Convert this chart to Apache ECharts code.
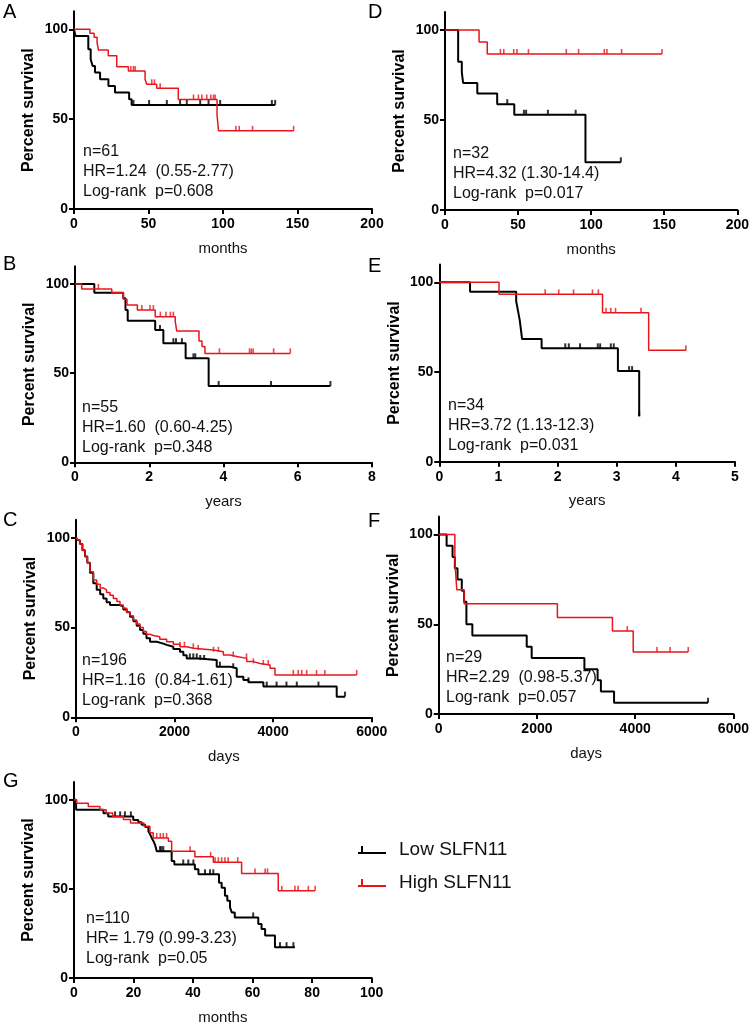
<!DOCTYPE html>
<html><head><meta charset="utf-8">
<script src="https://cdn.jsdelivr.net/npm/echarts@6/dist/echarts.min.js"></script>
<style>html,body{margin:0;padding:0;background:#fff}#c{width:752px;height:1026px}</style>
</head><body><div id="c"></div>
<script>
// ---------- DATA ----------
const seriesNames = ['Low SLFN11', 'High SLFN11'];

// Panel A (months)
const aLowT  = [0,1,9.6,11.2,12.5,14.1,17.5,23.1,27.5,37,38.7,135];
const aLowS  = [100,96.3,88.9,83.3,79.6,75.9,72.2,68.5,64.8,61.1,57.9,57.9];
const aLowC  = [39.9,50.4,62.3,71.2,75.7,84.7,90.3,98.1,132.8,135];
const aHighT = [0,10.7,13.5,15.5,16.4,23,28.7,36.5,47.7,48.8,55.5,70,96,97,147.4];
const aHighS = [100,97.8,95.5,92.6,88.4,85.2,79.2,76.8,72,69.4,67.2,60.9,52.3,43.5,43.5];
const aHighC = [38.1,39.9,41,52.2,54,57.8,80.2,83.5,85.8,89.1,91.8,93.6,94.7,108.6,110.9,119.8,147.4];
const aNotes = ['n=61', 'HR=1.24  (0.55-2.77)', 'Log-rank  p=0.608'];

// Panel D (months)
const dLowT  = [0,9,11.5,12.4,22.1,35.7,47.4,96.1,120.3];
const dLowS  = [100,82.4,76.5,70.6,64.7,58.8,52.9,26.5,26.5];
const dLowC  = [42.6,54,55.5,70.4,89.4,120.3];
const dHighT = [0,23.3,28.9,148.5];
const dHighS = [100,93.3,86.7,86.7];
const dHighC = [37.9,40.2,47,49.2,57.1,83,91.4,109,110.8,120.8,148.5];
const dNotes = ['n=32', 'HR=4.32 (1.30-14.4)', 'Log-rank  p=0.017'];

// Panel B (years)
const bLowT  = [0,0.52,1.3,1.36,1.42,2.16,2.38,2.98,3.6,6.88];
const bLowS  = [100,95.1,92,85.4,79.4,74.2,66.8,58.3,42.8,42.8];
const bLowC  = [2.29,2.65,2.72,2.88,3.19,3.24,3.87,5.28,6.88];
const bHighT = [0,0.18,0.99,1.3,1.4,1.68,2.16,2.7,2.74,3.34,3.42,3.5,5.8];
const bHighS = [100,97.2,95.1,91.4,88.2,85.4,81.7,79,73.6,68,65,61.1,61.1];
const bHighC = [0.63,1.8,2.02,2.11,2.3,2.45,2.57,2.65,3.89,4.7,4.75,4.8,5.35,5.8];
const bNotes = ['n=55', 'HR=1.60  (0.60-4.25)', 'Log-rank  p=0.348'];

// Panel E (years)
const eLowT  = [0,0.52,1.3,1.33,1.36,1.38,1.4,1.73,3.02,3.38];
const eLowS  = [100,94.7,89.5,84.2,78.9,73.7,68.4,63.2,50.5,25.3];
const eLowC  = [2.13,2.19,2.38,2.68,2.72,2.9,2.95,3.21,3.26,3.38];
const eHighT = [0,1.01,2.76,3.54,4.17];
const eHighS = [100,93.3,83,62.2,62.2];
const eHighC = [1.79,2.02,2.27,2.59,2.69,2.82,2.9,2.98,3.41,4.17];
const eNotes = ['n=34', 'HR=3.72 (1.13-12.3)', 'Log-rank  p=0.031'];

// Panel C (days)
const cLowT  = [0,40,81,130,183,230,284,351,420,490,554,620,690,893,960,1030,1096,1163,1231,1299,1366,1430,1502,1637,1772,1840,1975,2110,2178,2246,2500,2855,3125,3261,3396,3500,3802,5290,5459];
const cLowS  = [100,98.5,96.5,93,89.5,86,80.5,74.6,71,68.5,66.2,64,62.5,61.6,60,58.5,56,53.5,51,48.6,46.5,44,42.1,41,40.3,39.3,38,36.5,34.5,32.8,31.9,28.2,27.3,22.6,20.8,19.5,17.1,11.5,11.5];
const cLowC  = [2310,2380,2450,2520,2600,2920,3190,3500,3870,4070,4270,4480,4920,5459];
const cHighT = [0,40,81,130,183,230,284,351,420,490,554,620,690,757,830,893,960,1030,1096,1163,1230,1299,1366,1430,1500,1569,1700,1840,1975,2110,2246,2381,2787,2990,3125,3261,3464,3600,3734,3937,4038,5696];
const cHighS = [100,98.5,96.5,93,89.5,86,81,76.4,74,72,70.9,69.5,68,66.2,64.5,62.5,60.7,58.5,56.5,54.2,52,50,47.7,46.3,45.5,44.9,43.5,42.1,40.7,39.3,38.4,37.5,36.5,34.7,33.8,32.8,31,30,29.1,27.3,23.6,23.6];
const cHighC = [2110,2200,2380,2480,2790,2890,3190,3460,3600,3800,3900,4410,4510,4580,4680,4880,5050,5696];
const cNotes = ['n=196', 'HR=1.16  (0.84-1.61)', 'Log-rank  p=0.368'];

// Panel F (days)
const fLowT  = [0,161,282,329,383,470,517,564,685,1792,1893,2966,3235,3302,3570,5483];
const fLowS  = [100,93.75,87.5,81.25,75,68.75,62.5,50,43.75,37.5,31.25,25,18.75,12.5,6.25,6.25];
const fLowC  = [5483];
const fHighT = [0,329,369,517,2416,3537,3960,5080];
const fHighS = [100,84.6,69.2,61.5,53.8,46.2,34.6,34.6];
const fHighC = [3839,4443,4711,5080];
const fNotes = ['n=29', 'HR=2.29  (0.98-5.37)', 'Log-rank  p=0.057'];

// Panel G (months)
const gLowT  = [0,0.7,9.9,11.5,19.9,21.6,22.7,23.9,25,25.6,26.1,26.7,27.2,27.8,32.8,33.7,40.6,41.8,48.7,49.6,50.7,51.5,52.4,53,54,61.9,63,64.2,67.5,74.2];
const gLowS  = [100,94.4,92.5,90.7,88.7,87.4,86,84.8,82.3,80.5,78.6,76.8,74.9,71.2,65.6,63.7,61,58.2,53.5,50.7,46.1,43.3,39.6,36.8,34,30.3,27.5,23.8,17.3,17.3];
const gLowC  = [13.8,15.5,17.1,19.1,28.9,29.4,30,36.7,38.4,40.1,44,45.7,46.8,60.2,69.2,71.4,73.7];
const gHighT = [0,0.9,4.8,8.7,10.8,13,16.6,19,23.5,25.5,26.6,31.7,32.8,40.6,46.8,56.3,68.6,81];
const gHighS = [100,98.1,96.3,94.4,92.6,90.7,88.9,87,85.2,81.5,78.6,76.7,71.2,68,65,58.7,48.9,48.9];
const gHighC = [27.8,29,30,31.1,39,45.9,47.4,48.5,49.6,50.7,51.8,55,60.8,64.2,65,69.8,74.2,75.3,78.7,81];
const gNotes = ['n=110', 'HR= 1.79 (0.99-3.23)', 'Log-rank  p=0.05'];

const panelLetters = ['A','D','B','E','C','F','G'];
const xNames = ['months','months','years','years','days','days','months'];
const xMaxes = [200,200,8,5,6000,6000,100];
const xIntervals = [50,50,2,1,2000,2000,20];
const yTicks = [0,50,100];
const yName = 'Percent survival';

// ---------- LAYOUT / STYLE ----------
const FONT = "'Liberation Sans', Arial, Helvetica, sans-serif";
const BLACK = '#000000', RED = '#e8161b';
const grids = [
  {left:74,  top:11.3,  width:298,   height:197.7},
  {left:445, top:12,    width:295,   height:198},
  {left:75,  top:266.2, width:297,   height:196.1},
  {left:439.3, top:264.4, width:295.7, height:197.3},
  {left:76,  top:519.7, width:295.7, height:197.6},
  {left:438.7, top:516.6, width:298, height:197.4},
  {left:74,  top:782,   width:297.7, height:197.3}
];
const letterPos = [[3,13],[368,13],[3,265],[368,267],[3,521],[368,522],[3,782]];
const notePos = [[83,153],[453,155],[82,409],[448,407],[82,662],[446,659],[86,920]];

const panelData = [
  [aLowT,aLowS,aLowC,aHighT,aHighS,aHighC,aNotes],
  [dLowT,dLowS,dLowC,dHighT,dHighS,dHighC,dNotes],
  [bLowT,bLowS,bLowC,bHighT,bHighS,bHighC,bNotes],
  [eLowT,eLowS,eLowC,eHighT,eHighS,eHighC,eNotes],
  [cLowT,cLowS,cLowC,cHighT,cHighS,cHighC,cNotes],
  [fLowT,fLowS,fLowC,fHighT,fHighS,fHighC,fNotes],
  [gLowT,gLowS,gLowC,gHighT,gHighS,gHighC,gNotes]
];

function km(T,S){ return T.map((t,i)=>[t,S[i]]); }
function censor(T,S,C){
  return C.map(c=>{ let v=S[0]; for(let i=0;i<T.length;i++){ if(T[i]<=c) v=S[i]; } return [c,v]; });
}

const xAxes=[], yAxes=[], series=[], graphics=[];
panelData.forEach((p,i)=>{
  xAxes.push({
    type:'value', gridIndex:i, min:0, max:xMaxes[i], interval:xIntervals[i],
    name:xNames[i], nameLocation:'middle', nameGap:32,
    nameTextStyle:{fontFamily:FONT, fontSize:15, color:'#111'},
    axisLine:{show:true, onZero:false, lineStyle:{color:'#000', width:2}},
    axisTick:{show:true, inside:false, length:5, lineStyle:{color:'#000', width:2}},
    axisLabel:{fontFamily:FONT, fontSize:14, fontWeight:'bold', color:'#000', margin:8,
               showMaxLabel:true, showMinLabel:true, formatter:(v)=>String(v)},
    splitLine:{show:false}
  });
  yAxes.push({
    type:'value', gridIndex:i, min:0, max:110, interval:50,
    name:yName, nameLocation:'middle', nameGap:37,
    nameTextStyle:{fontFamily:FONT, fontSize:16, fontWeight:'bold', color:'#000'},
    axisLine:{show:true, onZero:false, lineStyle:{color:'#000', width:2}},
    axisTick:{show:true, inside:false, length:5, customValues:yTicks, lineStyle:{color:'#000', width:2}},
    axisLabel:{fontFamily:FONT, fontSize:14, fontWeight:'bold', color:'#000', margin:6, customValues:yTicks,
               formatter:(v)=>String(v)},
    splitLine:{show:false}
  });
  const [lT,lS,lC,hT,hS,hC,notes]=p;
  series.push({
    name:seriesNames[0], type:'line', step:'end', xAxisIndex:i, yAxisIndex:i,
    data:km(lT,lS), showSymbol:false, symbol:'none', color:BLACK,
    lineStyle:{color:BLACK, width:2}, z:3
  });
  series.push({
    name:seriesNames[0], type:'scatter', xAxisIndex:i, yAxisIndex:i,
    data:censor(lT,lS,lC), symbol:'rect', symbolSize:[2,5], symbolOffset:[0,-2.5],
    itemStyle:{color:BLACK}, color:BLACK, z:3, silent:true
  });
  series.push({
    name:seriesNames[1], type:'line', step:'end', xAxisIndex:i, yAxisIndex:i,
    data:km(hT,hS), showSymbol:false, symbol:'none', color:RED,
    lineStyle:{color:RED, width:1.5}, z:4
  });
  series.push({
    name:seriesNames[1], type:'scatter', xAxisIndex:i, yAxisIndex:i,
    data:censor(hT,hS,hC), symbol:'rect', symbolSize:[1.6,5], symbolOffset:[0,-2.5],
    itemStyle:{color:RED}, color:RED, z:4, silent:true
  });
  graphics.push({
    type:'text', left:letterPos[i][0], top:letterPos[i][1]-11,
    style:{text:panelLetters[i], font:'20px '+FONT, fill:'#000'}
  });
  notes.forEach((t,k)=>{
    graphics.push({
      type:'text', left:notePos[i][0], top:notePos[i][1]+k*20-9,
      style:{text:t, font:'16px '+FONT, fill:'#111', whiteSpace:'pre'}
    });
  });
});

const chart = echarts.init(document.getElementById('c'), null, {renderer:'canvas', width:752, height:1026});
chart.setOption({
  animation:false,
  backgroundColor:'#fff',
  grid:grids,
  xAxis:xAxes,
  yAxis:yAxes,
  series:series,
  graphic:graphics,
  legend:{
    data:seriesNames, orient:'vertical', left:353, top:835,
    itemWidth:28, itemHeight:8, itemGap:13,
    icon:'path://M0,6L3,6L3,0L5,0L5,6L28,6L28,8L0,8Z',
    textStyle:{fontFamily:FONT, fontSize:19, color:'#111', padding:[0,0,0,8], lineHeight:20},
    selectedMode:false
  }
});
</script></body></html>
